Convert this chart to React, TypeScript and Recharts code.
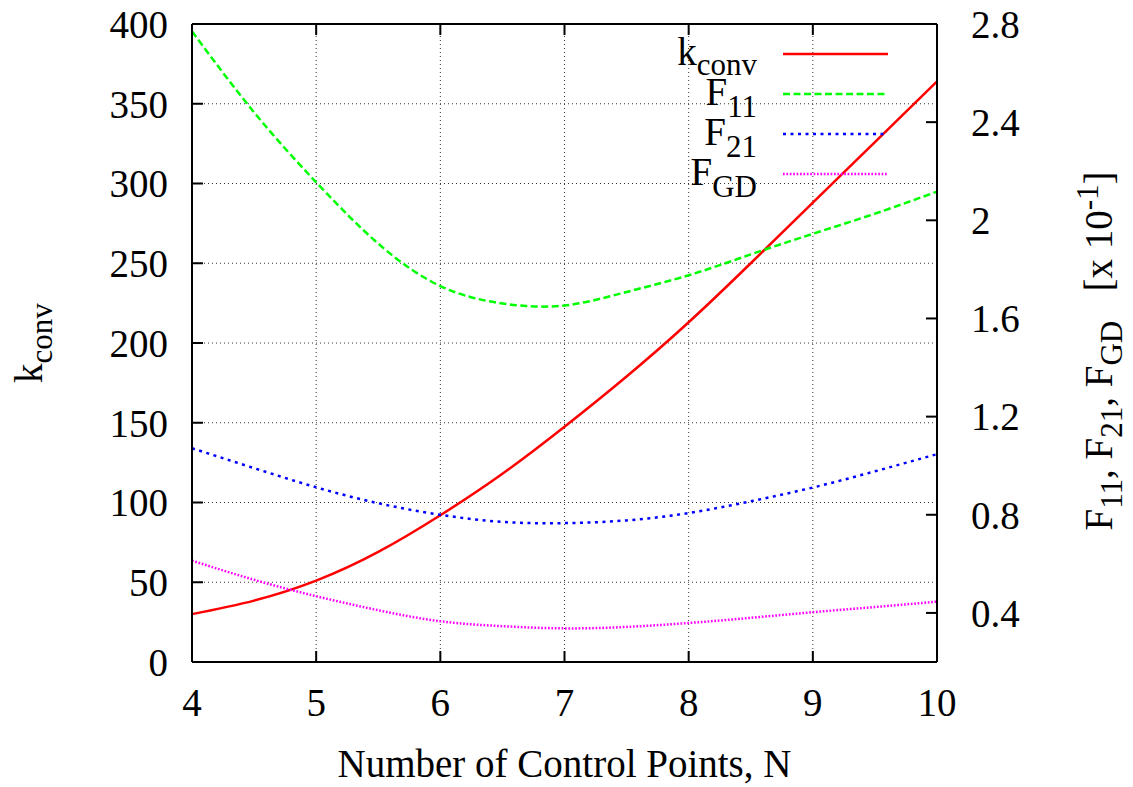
import React from "react";
import {
  CartesianGrid,
  Legend,
  Line,
  LineChart,
  XAxis,
  YAxis,
} from "recharts";

const FONT = "'Liberation Serif', 'Times New Roman', serif";

// Number of control points
const N_VALUES = [4, 4.5, 5, 5.5, 6, 6.5, 7, 7.5, 8, 8.5, 9, 9.5, 10];

// left axis
const K_CONV = [30, 38.5, 51, 69, 92, 118, 147.5, 179, 213, 250, 288, 326, 364];

// right axis, [x 10^-1]
const F11 = [2.77, 2.44, 2.155, 1.905, 1.732, 1.661, 1.653, 1.708, 1.776, 1.861, 1.945, 2.027, 2.117];
const F21 = [1.071, 0.99, 0.912, 0.847, 0.8, 0.771, 0.766, 0.777, 0.807, 0.855, 0.911, 0.977, 1.047];
const FGD = [0.613, 0.535, 0.468, 0.411, 0.366, 0.346, 0.337, 0.343, 0.359, 0.38, 0.403, 0.424, 0.446];

const X_TICKS = [4, 5, 6, 7, 8, 9, 10];
const LEFT_TICKS = [0, 50, 100, 150, 200, 250, 300, 350, 400];
const RIGHT_TICKS = [0.4, 0.8, 1.2, 1.6, 2, 2.4, 2.8];

const SERIES = [
  { key: "kconv", base: "k", sub: "conv", axis: "left", color: "#ff0000", dash: undefined },
  { key: "f11", base: "F", sub: "11", axis: "right", color: "#00ff00", dash: "7 3.5" },
  { key: "f21", base: "F", sub: "21", axis: "right", color: "#0000ff", dash: "3 4.5" },
  { key: "fgd", base: "F", sub: "GD", axis: "right", color: "#ff00ff", dash: "1.7 1.7" },
];

const data = N_VALUES.map((n, i) => ({
  n,
  kconv: K_CONV[i],
  f11: F11[i],
  f21: F21[i],
  fgd: FGD[i],
}));

const tickStyle = { fontSize: 39, fill: "#000", fontFamily: FONT };
const lineStyle = { stroke: "#000", strokeWidth: 2 };

function LeftLabel(props: any) {
  const vb = props.viewBox;
  const x = vb.x + 42;
  const y = vb.y + vb.height / 2;
  return (
    <text
      x={x}
      y={y}
      transform={`rotate(-90 ${x} ${y})`}
      textAnchor="middle"
      fontFamily={FONT}
      fontSize={39}
      fill="#000"
    >
      k
      <tspan dy={10} fontSize={31}>
        conv
      </tspan>
    </text>
  );
}

function RightLabel(props: any) {
  const vb = props.viewBox;
  const x = vb.x + vb.width - 21;
  const y = vb.y + vb.height / 2 + 8;
  return (
    <text
      x={x}
      y={y}
      transform={`rotate(-90 ${x} ${y})`}
      textAnchor="middle"
      fontFamily={FONT}
      fontSize={39}
      fill="#000"
      style={{ whiteSpace: "pre" }}
    >
      F<tspan dy={10} fontSize={31}>11</tspan>
      <tspan dy={-10}>, F</tspan>
      <tspan dy={10} fontSize={31}>21</tspan>
      <tspan dy={-10}>, F</tspan>
      <tspan dy={10} fontSize={31}>GD</tspan>
      <tspan dy={-10}>{"   [x 10"}</tspan>
      <tspan dy={-14} fontSize={31}>-1</tspan>
      <tspan dy={14}>]</tspan>
    </text>
  );
}

function KeyBox({ payload }: any) {
  const keys = (payload ?? []).map((entry: any) => entry.dataKey);
  const rows = SERIES.filter((s) => keys.length === 0 || keys.includes(s.key));
  return (
    <svg width={1133} height={200} style={{ display: "block", overflow: "visible" }}>
      {rows.map((s, i) => {
        const base = 65 + 40 * i;
        return (
          <g key={s.key}>
            <text
              x={757}
              y={base}
              textAnchor="end"
              fontFamily={FONT}
              fontSize={39}
              fill="#000"
            >
              {s.base}
              <tspan dy={s.key === "kconv" ? 10 : 12} fontSize={31}>
                {s.sub}
              </tspan>
            </text>
            <line
              x1={783}
              x2={888}
              y1={base - 11}
              y2={base - 11}
              stroke={s.color}
              strokeWidth={2.5}
              strokeDasharray={s.dash}
            />
          </g>
        );
      })}
    </svg>
  );
}

export default function App() {
  return (
    <div style={{ position: "absolute", left: 0, top: 0, background: "#fff" }}>
      <LineChart
        width={1133}
        height={787}
        data={data}
        margin={{ top: 0, right: 0, bottom: 0, left: 0 }}
      >
        <CartesianGrid
          yAxisId="left"
          stroke="#333"
          strokeDasharray="1 3"
          strokeWidth={1}
        />
        <XAxis
          xAxisId="top"
          orientation="top"
          dataKey="n"
          type="number"
          domain={[4, 10]}
          ticks={X_TICKS}
          interval={0}
          height={24}
          tickSize={-11}
          tickFormatter={() => ""}
          axisLine={lineStyle}
          tickLine={lineStyle}
        />
        <XAxis
          dataKey="n"
          type="number"
          domain={[4, 10]}
          ticks={X_TICKS}
          interval={0}
          height={125}
          tickSize={-11}
          tickMargin={37}
          tick={tickStyle}
          axisLine={lineStyle}
          tickLine={lineStyle}
          label={{
            value: "Number of Control Points, N",
            position: "insideBottom",
            offset: 10,
            fontSize: 39,
            fontFamily: FONT,
            fill: "#000",
          }}
        />
        <YAxis
          yAxisId="left"
          domain={[0, 400]}
          ticks={LEFT_TICKS}
          interval={0}
          width={192}
          tickSize={-11}
          tickMargin={35}
          tick={tickStyle}
          axisLine={lineStyle}
          tickLine={lineStyle}
          label={{ content: LeftLabel }}
        />
        <YAxis
          yAxisId="right"
          orientation="right"
          domain={[0.2, 2.8]}
          ticks={RIGHT_TICKS}
          interval={0}
          width={196}
          tickSize={-11}
          tickMargin={45}
          tick={tickStyle}
          tickFormatter={(v: number) => String(v)}
          axisLine={lineStyle}
          tickLine={lineStyle}
          label={{ content: RightLabel }}
        />
        <Legend
          layout="vertical"
          align="center"
          verticalAlign="middle"
          wrapperStyle={{ top: 0, left: 0 }}
          content={KeyBox}
        />
        {SERIES.map((s) => (
          <Line
            key={s.key}
            yAxisId={s.axis}
            dataKey={s.key}
            type="natural"
            stroke={s.color}
            strokeWidth={2.5}
            strokeDasharray={s.dash}
            dot={false}
            activeDot={false}
            isAnimationActive={false}
          />
        ))}
      </LineChart>
    </div>
  );
}
